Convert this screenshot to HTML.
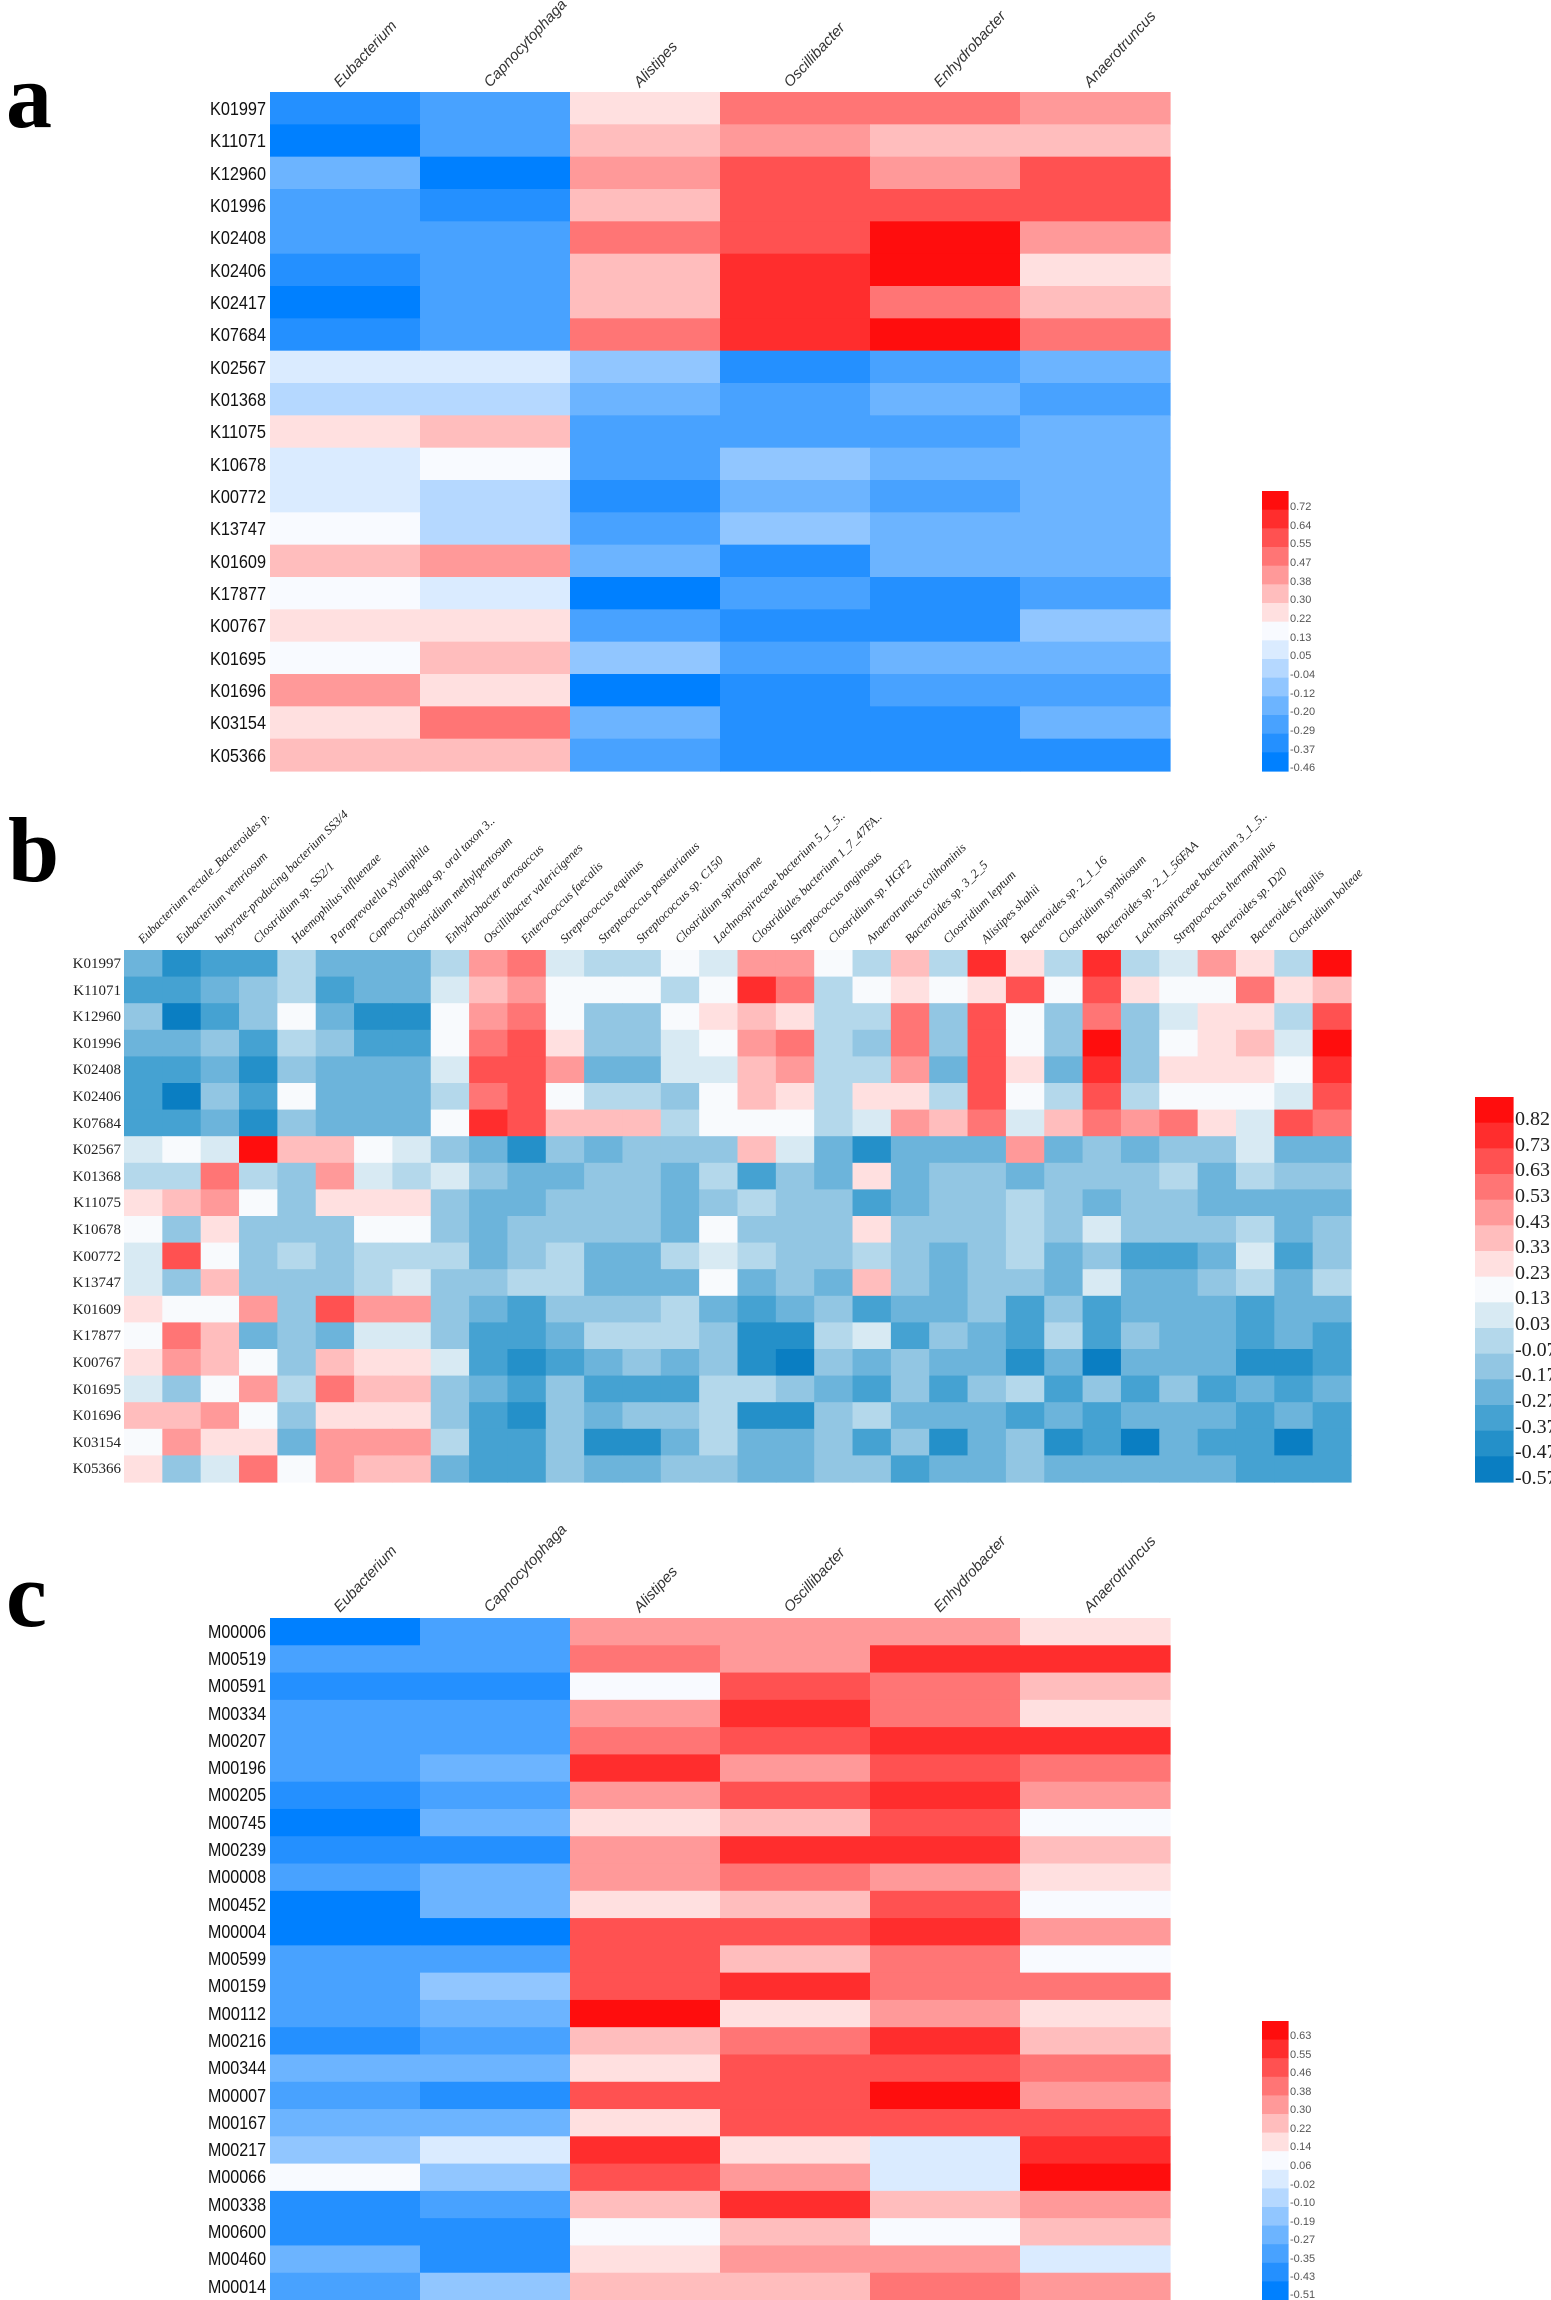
<!DOCTYPE html>
<html><head><meta charset="utf-8"><style>
html,body{margin:0;padding:0;background:#fff;}
svg{display:block;}
.ra{font-family:"Liberation Sans",sans-serif;font-size:18px;fill:#111;}
.ca{font-family:"Liberation Sans",sans-serif;font-style:italic;font-size:15px;fill:#333;}
.rb{font-family:"Liberation Serif",serif;font-size:15px;fill:#222;}
.cb{font-family:"Liberation Serif",serif;font-style:italic;font-size:12.5px;fill:#222;}
.la{font-family:"Liberation Sans",sans-serif;font-size:11px;fill:#555;}
.lb{font-family:"Liberation Serif",serif;font-size:20px;fill:#222;}
.big{font-family:"Liberation Serif",serif;font-weight:bold;font-size:92px;fill:#000;}
</style></head><body>
<svg id="s" width="1551" height="2300" xmlns="http://www.w3.org/2000/svg">
<g id="cells"></g>
<text class="big" x="6" y="127">a</text>
<text class="big" x="8" y="881">b</text>
<text class="big" x="6" y="1626">c</text>

<g class="ca">
<text transform="translate(340,88) rotate(-47)">Eubacterium</text>
<text transform="translate(490,88) rotate(-47)">Capnocytophaga</text>
<text transform="translate(640,88) rotate(-47)">Alistipes</text>
<text transform="translate(790,88) rotate(-47)">Oscillibacter</text>
<text transform="translate(940,88) rotate(-47)">Enhydrobacter</text>
<text transform="translate(1090,88) rotate(-47)">Anaerotruncus</text>
</g>
<g class="ra" text-anchor="end" lengthAdjust="spacingAndGlyphs">
<text x="266" y="115" textLength="56" lengthAdjust="spacingAndGlyphs">K01997</text><text x="266" y="147" textLength="56" lengthAdjust="spacingAndGlyphs">K11071</text><text x="266" y="180" textLength="56" lengthAdjust="spacingAndGlyphs">K12960</text>
<text x="266" y="212" textLength="56" lengthAdjust="spacingAndGlyphs">K01996</text><text x="266" y="244" textLength="56" lengthAdjust="spacingAndGlyphs">K02408</text><text x="266" y="277" textLength="56" lengthAdjust="spacingAndGlyphs">K02406</text>
<text x="266" y="309" textLength="56" lengthAdjust="spacingAndGlyphs">K02417</text><text x="266" y="341" textLength="56" lengthAdjust="spacingAndGlyphs">K07684</text><text x="266" y="374" textLength="56" lengthAdjust="spacingAndGlyphs">K02567</text>
<text x="266" y="406" textLength="56" lengthAdjust="spacingAndGlyphs">K01368</text><text x="266" y="438" textLength="56" lengthAdjust="spacingAndGlyphs">K11075</text><text x="266" y="471" textLength="56" lengthAdjust="spacingAndGlyphs">K10678</text>
<text x="266" y="503" textLength="56" lengthAdjust="spacingAndGlyphs">K00772</text><text x="266" y="535" textLength="56" lengthAdjust="spacingAndGlyphs">K13747</text><text x="266" y="568" textLength="56" lengthAdjust="spacingAndGlyphs">K01609</text>
<text x="266" y="600" textLength="56" lengthAdjust="spacingAndGlyphs">K17877</text><text x="266" y="632" textLength="56" lengthAdjust="spacingAndGlyphs">K00767</text><text x="266" y="665" textLength="56" lengthAdjust="spacingAndGlyphs">K01695</text>
<text x="266" y="697" textLength="56" lengthAdjust="spacingAndGlyphs">K01696</text><text x="266" y="729" textLength="56" lengthAdjust="spacingAndGlyphs">K03154</text><text x="266" y="762" textLength="56" lengthAdjust="spacingAndGlyphs">K05366</text>
</g>
<g class="la">
<text x="1290" y="510">0.72</text><text x="1290" y="529">0.64</text><text x="1290" y="547">0.55</text>
<text x="1290" y="566">0.47</text><text x="1290" y="585">0.38</text><text x="1290" y="603">0.30</text>
<text x="1290" y="622">0.22</text><text x="1290" y="641">0.13</text><text x="1290" y="659">0.05</text>
<text x="1290" y="678">-0.04</text><text x="1290" y="697">-0.12</text><text x="1290" y="715">-0.20</text>
<text x="1290" y="734">-0.29</text><text x="1290" y="753">-0.37</text><text x="1290" y="771">-0.46</text>
</g>

<g class="cb">
<text transform="translate(143,944) rotate(-45)">Eubacterium rectale_Bacteroides p.</text>
<text transform="translate(181,944) rotate(-45)">Eubacterium ventriosum</text>
<text transform="translate(220,944) rotate(-45)">butyrate-producing bacterium SS3/4</text>
<text transform="translate(258,944) rotate(-45)">Clostridium sp. SS2/1</text>
<text transform="translate(296,944) rotate(-45)">Haemophilus influenzae</text>
<text transform="translate(335,944) rotate(-45)">Paraprevotella xylaniphila</text>
<text transform="translate(373,944) rotate(-45)">Capnocytophaga sp. oral taxon 3..</text>
<text transform="translate(411,944) rotate(-45)">Clostridium methylpentosum</text>
<text transform="translate(450,944) rotate(-45)">Enhydrobacter aerosaccus</text>
<text transform="translate(488,944) rotate(-45)">Oscillibacter valericigenes</text>
<text transform="translate(526,944) rotate(-45)">Enterococcus faecalis</text>
<text transform="translate(565,944) rotate(-45)">Streptococcus equinus</text>
<text transform="translate(603,944) rotate(-45)">Streptococcus pasteurianus</text>
<text transform="translate(641,944) rotate(-45)">Streptococcus sp. C150</text>
<text transform="translate(680,944) rotate(-45)">Clostridium spiroforme</text>
<text transform="translate(718,944) rotate(-45)">Lachnospiraceae bacterium 5_1_5..</text>
<text transform="translate(756,944) rotate(-45)">Clostridiales bacterium 1_7_47FA..</text>
<text transform="translate(795,944) rotate(-45)">Streptococcus anginosus</text>
<text transform="translate(833,944) rotate(-45)">Clostridium sp. HGF2</text>
<text transform="translate(871,944) rotate(-45)">Anaerotruncus colihominis</text>
<text transform="translate(910,944) rotate(-45)">Bacteroides sp. 3_2_5</text>
<text transform="translate(948,944) rotate(-45)">Clostridium leptum</text>
<text transform="translate(986,944) rotate(-45)">Alistipes shahii</text>
<text transform="translate(1025,944) rotate(-45)">Bacteroides sp. 2_1_16</text>
<text transform="translate(1063,944) rotate(-45)">Clostridium symbiosum</text>
<text transform="translate(1101,944) rotate(-45)">Bacteroides sp. 2_1_56FAA</text>
<text transform="translate(1140,944) rotate(-45)">Lachnospiraceae bacterium 3_1_5..</text>
<text transform="translate(1178,944) rotate(-45)">Streptococcus thermophilus</text>
<text transform="translate(1216,944) rotate(-45)">Bacteroides sp. D20</text>
<text transform="translate(1255,944) rotate(-45)">Bacteroides fragilis</text>
<text transform="translate(1293,944) rotate(-45)">Clostridium bolteae</text>
</g>
<g class="rb" text-anchor="end">
<text x="121" y="968">K01997</text><text x="121" y="995">K11071</text><text x="121" y="1021">K12960</text>
<text x="121" y="1048">K01996</text><text x="121" y="1074">K02408</text><text x="121" y="1101">K02406</text>
<text x="121" y="1128">K07684</text><text x="121" y="1154">K02567</text><text x="121" y="1181">K01368</text>
<text x="121" y="1207">K11075</text><text x="121" y="1234">K10678</text><text x="121" y="1261">K00772</text>
<text x="121" y="1287">K13747</text><text x="121" y="1314">K01609</text><text x="121" y="1340">K17877</text>
<text x="121" y="1367">K00767</text><text x="121" y="1394">K01695</text><text x="121" y="1420">K01696</text>
<text x="121" y="1447">K03154</text><text x="121" y="1473">K05366</text>
</g>
<g class="lb">
<text x="1515" y="1125">0.82</text><text x="1515" y="1151">0.73</text><text x="1515" y="1176">0.63</text>
<text x="1515" y="1202">0.53</text><text x="1515" y="1228">0.43</text><text x="1515" y="1253">0.33</text>
<text x="1515" y="1279">0.23</text><text x="1515" y="1304">0.13</text><text x="1515" y="1330">0.03</text>
<text x="1515" y="1356">-0.07</text><text x="1515" y="1381">-0.17</text><text x="1515" y="1407">-0.27</text>
<text x="1515" y="1433">-0.37</text><text x="1515" y="1458">-0.47</text><text x="1515" y="1484">-0.57</text>
</g>

<g class="ca">
<text transform="translate(340,1613) rotate(-47)">Eubacterium</text>
<text transform="translate(490,1613) rotate(-47)">Capnocytophaga</text>
<text transform="translate(640,1613) rotate(-47)">Alistipes</text>
<text transform="translate(790,1613) rotate(-47)">Oscillibacter</text>
<text transform="translate(940,1613) rotate(-47)">Enhydrobacter</text>
<text transform="translate(1090,1613) rotate(-47)">Anaerotruncus</text>
</g>
<g class="ra" text-anchor="end">
<text x="266" y="1638" textLength="58" lengthAdjust="spacingAndGlyphs">M00006</text><text x="266" y="1665" textLength="58" lengthAdjust="spacingAndGlyphs">M00519</text><text x="266" y="1692" textLength="58" lengthAdjust="spacingAndGlyphs">M00591</text>
<text x="266" y="1720" textLength="58" lengthAdjust="spacingAndGlyphs">M00334</text><text x="266" y="1747" textLength="58" lengthAdjust="spacingAndGlyphs">M00207</text><text x="266" y="1774" textLength="58" lengthAdjust="spacingAndGlyphs">M00196</text>
<text x="266" y="1801" textLength="58" lengthAdjust="spacingAndGlyphs">M00205</text><text x="266" y="1829" textLength="58" lengthAdjust="spacingAndGlyphs">M00745</text><text x="266" y="1856" textLength="58" lengthAdjust="spacingAndGlyphs">M00239</text>
<text x="266" y="1883" textLength="58" lengthAdjust="spacingAndGlyphs">M00008</text><text x="266" y="1911" textLength="58" lengthAdjust="spacingAndGlyphs">M00452</text><text x="266" y="1938" textLength="58" lengthAdjust="spacingAndGlyphs">M00004</text>
<text x="266" y="1965" textLength="58" lengthAdjust="spacingAndGlyphs">M00599</text><text x="266" y="1992" textLength="58" lengthAdjust="spacingAndGlyphs">M00159</text><text x="266" y="2020" textLength="58" lengthAdjust="spacingAndGlyphs">M00112</text>
<text x="266" y="2047" textLength="58" lengthAdjust="spacingAndGlyphs">M00216</text><text x="266" y="2074" textLength="58" lengthAdjust="spacingAndGlyphs">M00344</text><text x="266" y="2102" textLength="58" lengthAdjust="spacingAndGlyphs">M00007</text>
<text x="266" y="2129" textLength="58" lengthAdjust="spacingAndGlyphs">M00167</text><text x="266" y="2156" textLength="58" lengthAdjust="spacingAndGlyphs">M00217</text><text x="266" y="2183" textLength="58" lengthAdjust="spacingAndGlyphs">M00066</text>
<text x="266" y="2211" textLength="58" lengthAdjust="spacingAndGlyphs">M00338</text><text x="266" y="2238" textLength="58" lengthAdjust="spacingAndGlyphs">M00600</text><text x="266" y="2265" textLength="58" lengthAdjust="spacingAndGlyphs">M00460</text>
<text x="266" y="2293" textLength="58" lengthAdjust="spacingAndGlyphs">M00014</text>
</g>
<g class="la">
<text x="1290" y="2039">0.63</text><text x="1290" y="2058">0.55</text><text x="1290" y="2076">0.46</text>
<text x="1290" y="2095">0.38</text><text x="1290" y="2113">0.30</text><text x="1290" y="2132">0.22</text>
<text x="1290" y="2150">0.14</text><text x="1290" y="2169">0.06</text><text x="1290" y="2188">-0.02</text>
<text x="1290" y="2206">-0.10</text><text x="1290" y="2225">-0.19</text><text x="1290" y="2243">-0.27</text>
<text x="1290" y="2262">-0.35</text><text x="1290" y="2280">-0.43</text><text x="1290" y="2298">-0.51</text>
</g>
</svg>
<script>
var PA={B7:'#0080FF',B6:'#2490FF',B5:'#48A2FF',B4:'#6CB4FF',B3:'#91C6FF',B2:'#B5D8FF',B1:'#DAEBFF',W:'#F8FAFF',R1:'#FFE0E0',R2:'#FFBDBD',R3:'#FF9999',R4:'#FF7575',R5:'#FF5151',R6:'#FF2D2D',R7:'#FF0D0D'};
var PB={B7:'#0A7EC2',B6:'#2490C9',B5:'#45A2D2',B4:'#6CB4DB',B3:'#92C6E3',B2:'#B4D8EB',B1:'#D8EAF3',W:'#F8FAFD',R1:'#FFE0E0',R2:'#FFBDBD',R3:'#FF9999',R4:'#FF7575',R5:'#FF5151',R6:'#FF2D2D',R7:'#FF0D0D'};
var A=["B6 B5 R1 R4 R4 R3","B7 B5 R2 R3 R2 R2","B4 B7 R3 R5 R3 R5","B5 B6 R2 R5 R5 R5","B5 B5 R4 R5 R7 R3","B6 B5 R2 R6 R7 R1","B7 B5 R2 R6 R4 R2","B6 B5 R4 R6 R7 R4","B1 B1 B3 B6 B5 B4","B2 B2 B4 B5 B4 B5","R1 R2 B5 B5 B5 B4","B1 W B5 B3 B4 B4","B1 B2 B6 B4 B5 B4","W B2 B5 B3 B4 B4","R2 R3 B4 B6 B4 B4","W B1 B7 B5 B6 B5","R1 R1 B5 B6 B6 B3","W R2 B3 B5 B4 B4","R3 R1 B7 B6 B5 B5","R1 R4 B4 B6 B6 B4","R2 R2 B5 B6 B6 B6"];
var C=["B7 B5 R3 R3 R3 R1","B5 B5 R4 R3 R6 R6","B6 B6 W R5 R4 R2","B5 B5 R3 R6 R4 R1","B5 B5 R4 R5 R6 R6","B5 B4 R6 R3 R5 R4","B6 B5 R3 R5 R6 R3","B7 B4 R1 R2 R5 W","B6 B6 R3 R6 R6 R2","B5 B4 R3 R4 R3 R1","B7 B4 R1 R2 R5 W","B7 B7 R5 R5 R6 R3","B5 B5 R5 R2 R4 W","B5 B3 R5 R6 R4 R4","B5 B4 R7 R1 R3 R1","B6 B5 R2 R4 R6 R2","B4 B4 R1 R5 R5 R4","B5 B6 R5 R5 R7 R3","B4 B4 R1 R5 R5 R5","B3 B1 R6 R1 B1 R6","W B3 R5 R3 B1 R7","B6 B5 R2 R6 R2 R3","B6 B6 W R2 W R2","B4 B6 R1 R3 R3 B1","B5 B3 R2 R2 R4 R3"];
var BL=["B4 B6 B5 B5 B2 B4 B4 B4 B2 R3 R4 B1 B2 B2 W B1","B5 B5 B4 B3 B2 B5 B4 B4 B1 R2 R3 W W W B2 W","B3 B7 B5 B3 W B4 B6 B6 W R3 R4 W B3 B3 W R1","B4 B4 B3 B5 B2 B3 B5 B5 W R4 R5 R1 B3 B3 B1 W","B5 B5 B4 B6 B3 B4 B4 B4 B1 R5 R5 R3 B4 B4 B1 B1","B5 B7 B3 B5 W B4 B4 B4 B2 R4 R5 W B2 B2 B3 W","B5 B5 B4 B6 B3 B4 B4 B4 W R6 R5 R2 R2 R2 B2 W","B1 W B1 R7 R2 R2 W B1 B3 B4 B6 B3 B4 B3 B3 B3","B2 B2 R4 B2 B3 R3 B1 B2 B1 B3 B4 B4 B3 B3 B4 B2","R1 R2 R3 W B3 R1 R1 R1 B3 B4 B4 B3 B3 B3 B4 B3","W B3 R1 B3 B3 B3 W W B3 B4 B3 B3 B3 B3 B4 W","B1 R5 W B3 B2 B3 B2 B2 B2 B4 B3 B2 B4 B4 B2 B1","B1 B3 R2 B3 B3 B3 B2 B1 B3 B3 B2 B2 B4 B4 B4 W","R1 W W R3 B3 R5 R3 R3 B3 B4 B5 B3 B3 B3 B2 B4","W R4 R2 B4 B3 B4 B1 B1 B3 B5 B5 B4 B2 B2 B2 B3","R1 R3 R2 W B3 R2 R1 R1 B1 B5 B6 B5 B4 B3 B4 B3","B1 B3 W R3 B2 R4 R2 R2 B3 B4 B5 B3 B5 B5 B5 B2","R2 R2 R3 W B3 R1 R1 R1 B3 B5 B6 B3 B4 B3 B3 B2","W R3 R1 R1 B4 R3 R3 R3 B2 B5 B5 B3 B6 B6 B4 B2","R1 B3 B1 R4 W R3 R2 R2 B4 B5 B5 B3 B4 B4 B3 B3"];
var BR=["R3 R3 W B2 R2 B2 R6 R1 B2 R6 B2 B1 R3 R1 B2 R7","R6 R4 B2 W R1 W R1 R5 W R5 R1 W W R4 R1 R2","R2 R1 B2 B2 R4 B3 R5 W B3 R4 B3 B1 R1 R1 B2 R5","R3 R4 B2 B3 R4 B3 R5 W B3 R7 B3 W R1 R2 B1 R7","R2 R3 B2 B2 R3 B4 R5 R1 B4 R6 B3 R1 R1 R1 W R6","R2 R1 B2 R1 R1 B2 R5 W B2 R5 B2 W W W B1 R5","W W B2 B1 R3 R2 R4 B1 R2 R4 R3 R4 R1 B1 R5 R4","R2 B1 B4 B6 B4 B4 B4 R3 B4 B3 B4 B3 B3 B1 B4 B4","B5 B3 B4 R1 B4 B3 B3 B4 B3 B3 B3 B2 B4 B2 B3 B3","B2 B3 B3 B5 B4 B3 B3 B2 B3 B4 B3 B3 B4 B4 B4 B4","B3 B3 B3 R1 B3 B3 B3 B2 B3 B1 B3 B3 B3 B2 B4 B3","B2 B3 B3 B2 B3 B4 B3 B2 B4 B3 B5 B5 B4 B1 B5 B3","B4 B3 B4 R2 B3 B4 B3 B3 B4 B1 B4 B4 B3 B2 B4 B2","B5 B4 B3 B5 B4 B4 B3 B5 B3 B5 B4 B4 B4 B5 B4 B4","B6 B6 B2 B1 B5 B3 B4 B5 B2 B5 B3 B4 B4 B5 B4 B5","B6 B7 B3 B4 B3 B4 B4 B6 B4 B7 B4 B4 B4 B6 B6 B5","B2 B3 B4 B5 B3 B5 B3 B2 B5 B3 B5 B3 B5 B4 B5 B4","B6 B6 B3 B2 B4 B4 B4 B5 B4 B5 B4 B4 B4 B5 B4 B5","B4 B4 B3 B5 B3 B6 B4 B3 B6 B5 B7 B4 B5 B5 B7 B5","B4 B4 B3 B3 B5 B4 B4 B3 B4 B4 B4 B4 B4 B5 B5 B5"];
var g=document.getElementById('cells'),ns='http://www.w3.org/2000/svg';
function r(x,y,w,h,f){var e=document.createElementNS(ns,'rect');e.setAttribute('x',x.toFixed(2));e.setAttribute('y',y.toFixed(2));e.setAttribute('width',(w+0.6).toFixed(2));e.setAttribute('height',(h+0.6).toFixed(2));e.setAttribute('fill',f);g.appendChild(e);}
function grid(rows,x0,y0,cw,ch,P){rows.forEach(function(row,i){row.split(' ').forEach(function(c,j){r(x0+j*cw,y0+i*ch,cw,ch,P[c]);});});}
grid(A,270,92,150,679/21,PA);
grid(C,270,1618,150,682/25,PA);
var B=BL.map(function(s,i){return s+' '+BR[i];});
grid(B,124,950,1227/32,532/20,PB);
var ord=['R7','R6','R5','R4','R3','R2','R1','W','B1','B2','B3','B4','B5','B6','B7'];
ord.forEach(function(c,i){r(1262,491+i*280/15,26,280/15,PA[c]);r(1262,2021+i*279/15,26,279/15,PA[c]);r(1475,1097+i*385/15,38,385/15,PB[c]);});
</script>
</body></html>
